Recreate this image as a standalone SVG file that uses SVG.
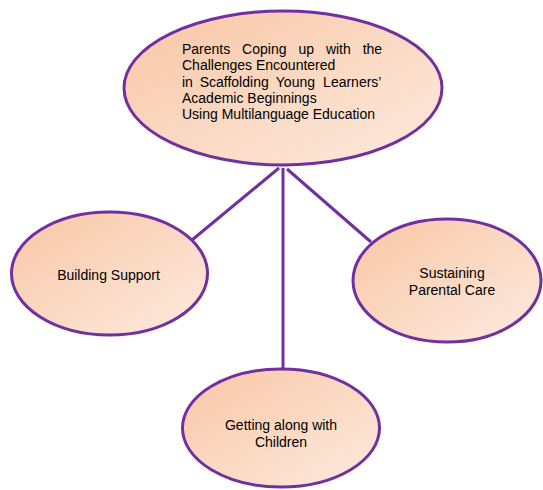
<svg xmlns="http://www.w3.org/2000/svg" width="543" height="490" viewBox="0 0 543 490">
<defs>
<linearGradient id="peach" x1="0" y1="0" x2="1" y2="1">
<stop offset="0" stop-color="#F8C6A4"/>
<stop offset="1" stop-color="#FDEBE0"/>
</linearGradient>
</defs>
<style>
.node{fill:url(#peach);stroke:#7030A0;stroke-width:3}
.conn{stroke:#7030A0;stroke-width:3;fill:none}
text{font-family:"Liberation Sans",Arial,sans-serif;font-size:14px;fill:#000}
.c{text-anchor:middle}
</style>
<rect width="543" height="490" fill="#fff"/>
<g id="connectors">
<line class="conn" x1="283" y1="168" x2="283" y2="370"/>
<line class="conn" x1="279" y1="168" x2="192" y2="240"/>
<line class="conn" x1="287" y1="169" x2="371" y2="242"/>
</g>
<g id="main">
<ellipse class="node" cx="283" cy="88" rx="159" ry="77"/>
<text y="54"><tspan x="182">Parents</tspan><tspan x="242.1">Coping</tspan><tspan x="298.4">up</tspan><tspan x="325.9">with</tspan><tspan x="362.7">the</tspan></text>
<text x="182" y="70">Challenges Encountered</text>
<text y="87"><tspan x="182">in</tspan><tspan x="199.7">Scaffolding</tspan><tspan x="275.8">Young</tspan><tspan x="323.1">Learners’</tspan></text>
<text x="182" y="103">Academic Beginnings</text>
<text x="182" y="119">Using Multilanguage Education</text>
</g>
<g id="building">
<ellipse class="node" cx="109.5" cy="273.5" rx="98" ry="61.5"/>
<text class="c" x="108.5" y="280">Building Support</text>
</g>
<g id="sustaining">
<ellipse class="node" cx="447" cy="280.5" rx="94" ry="61.5"/>
<text class="c" x="452" y="278">Sustaining</text>
<text class="c" x="452" y="294.5">Parental Care</text>
</g>
<g id="getting">
<ellipse class="node" cx="281" cy="428" rx="98.5" ry="59"/>
<text class="c" x="281" y="430">Getting along with</text>
<text class="c" x="281" y="446.5">Children</text>
</g>
</svg>
